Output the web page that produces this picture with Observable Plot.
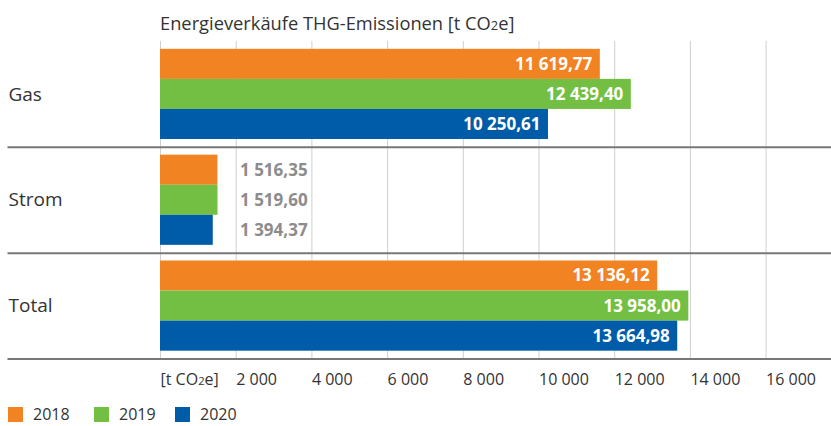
<!DOCTYPE html>
<html><head><meta charset="utf-8">
<script src="https://cdn.jsdelivr.net/npm/d3@7"></script>
<script src="https://cdn.jsdelivr.net/npm/@observablehq/plot@0.6"></script>
<style>
body{margin:0;background:#fff;font-family:"Open Sans",sans-serif;color:#333;width:831px;height:426px;position:relative;overflow:hidden;}
#title{position:absolute;left:160px;top:11px;font-size:18.3px;line-height:24px;color:#333;white-space:nowrap;}
#title .s{font-size:70%;}
#chart{position:absolute;left:0;top:36px;}
#legend{position:absolute;left:0;top:404px;width:831px;height:20px;font-size:16px;color:#333;line-height:20px;}
#legend .item{position:absolute;top:0;display:flex;align-items:center;height:20px;}
#legend .sw{width:15px;height:15px;margin-right:10px;}
</style></head><body>
<div id="title">Energieverkäufe THG-Emissionen [t CO<span class="s">2</span>e]</div>
<div id="chart"></div>
<div id="legend"></div>
<script>
const categories = ["Gas", "Strom", "Total"];
const years = ["2018", "2019", "2020"];
const values2018 = [11619.77, 1516.35, 13136.12];
const values2019 = [12439.40, 1519.60, 13958.00];
const values2020 = [10250.61, 1394.37, 13664.98];
const colors = ["#F28323", "#72BF44", "#005CA9"];
const xTicks = [0, 2000, 4000, 6000, 8000, 10000, 12000, 14000, 16000];
const unitLabel = "[t CO2e]";

const series = [values2018, values2019, values2020];
const data = [];
categories.forEach((c, i) => years.forEach((y, j) => data.push({category: c, year: y, value: series[j][i]})));

const loc = d3.formatLocale({decimal: ",", thousands: "\u00a0", grouping: [3], currency: ["", ""]});
const fmtVal = loc.format(",.2f");
const fmtTick = loc.format(",d");

const inside = data.filter(d => d.category !== "Strom");
const outside = data.filter(d => d.category === "Strom");
const outsideX = d3.max(outside, d => d.value);

const chart = Plot.plot({
  width: 831,
  height: 364,
  marginTop: 5,
  marginBottom: 41.5,
  marginLeft: 160,
  marginRight: 65.4,
  style: {fontFamily: '"Open Sans",sans-serif', background: "#fff"},
  x: {domain: [0, 16000], axis: null},
  y: {domain: years, paddingInner: 0, paddingOuter: 0.26, axis: null, round: false},
  fy: {domain: categories, padding: 0, axis: null, round: false},
  color: {domain: years, range: colors},
  marks: [
    Plot.gridX(xTicks, {stroke: "#cfcfcf", strokeOpacity: 1, strokeWidth: 1}),
    Plot.barX(data, {x: "value", y: "year", fy: "category", fill: "year"}),
    Plot.text(inside, {x: "value", y: "year", fy: "category", text: d => fmtVal(d.value), textAnchor: "end", dx: -8, fill: "white", fontWeight: "bold", fontSize: 17}),
    Plot.text(outside, {x: () => outsideX, y: "year", fy: "category", text: d => fmtVal(d.value), textAnchor: "start", dx: 22, fill: "#8c8c8c", fontWeight: "bold", fontSize: 17}),
    Plot.text(categories, {fy: d => d, text: d => d, frameAnchor: "left", dx: -152, textAnchor: "start", fontSize: 19, fill: "#333"}),
    Plot.frame({anchor: "bottom", stroke: "#777", strokeWidth: 2, insetLeft: -152, insetRight: -65.4}),
    Plot.axisX(xTicks, {anchor: "bottom", tickSize: 0, tickPadding: 15, textAnchor: "start", dx: 0, fontSize: 16, fill: "#333", tickFormat: d => d === 0 ? unitLabel : fmtTick(d), label: null})
  ]
});
document.getElementById("chart").appendChild(chart);

// smaller "2" in CO2e unit label
d3.select(chart).selectAll("text").each(function() {
  if (this.textContent === unitLabel) {
    const t = d3.select(this);
    t.text(null);
    t.append("tspan").text("[t CO");
    t.append("tspan").attr("font-size", "70%").text("2");
    t.append("tspan").text("e]");
  }
});

const legendLeft = [8, 94, 175];
const legend = d3.select("#legend");
years.forEach((y, i) => {
  const it = legend.append("div").attr("class", "item").style("left", legendLeft[i] + "px");
  it.append("div").attr("class", "sw").style("background", colors[i]);
  it.append("span").text(y);
});
</script>
</body></html>
